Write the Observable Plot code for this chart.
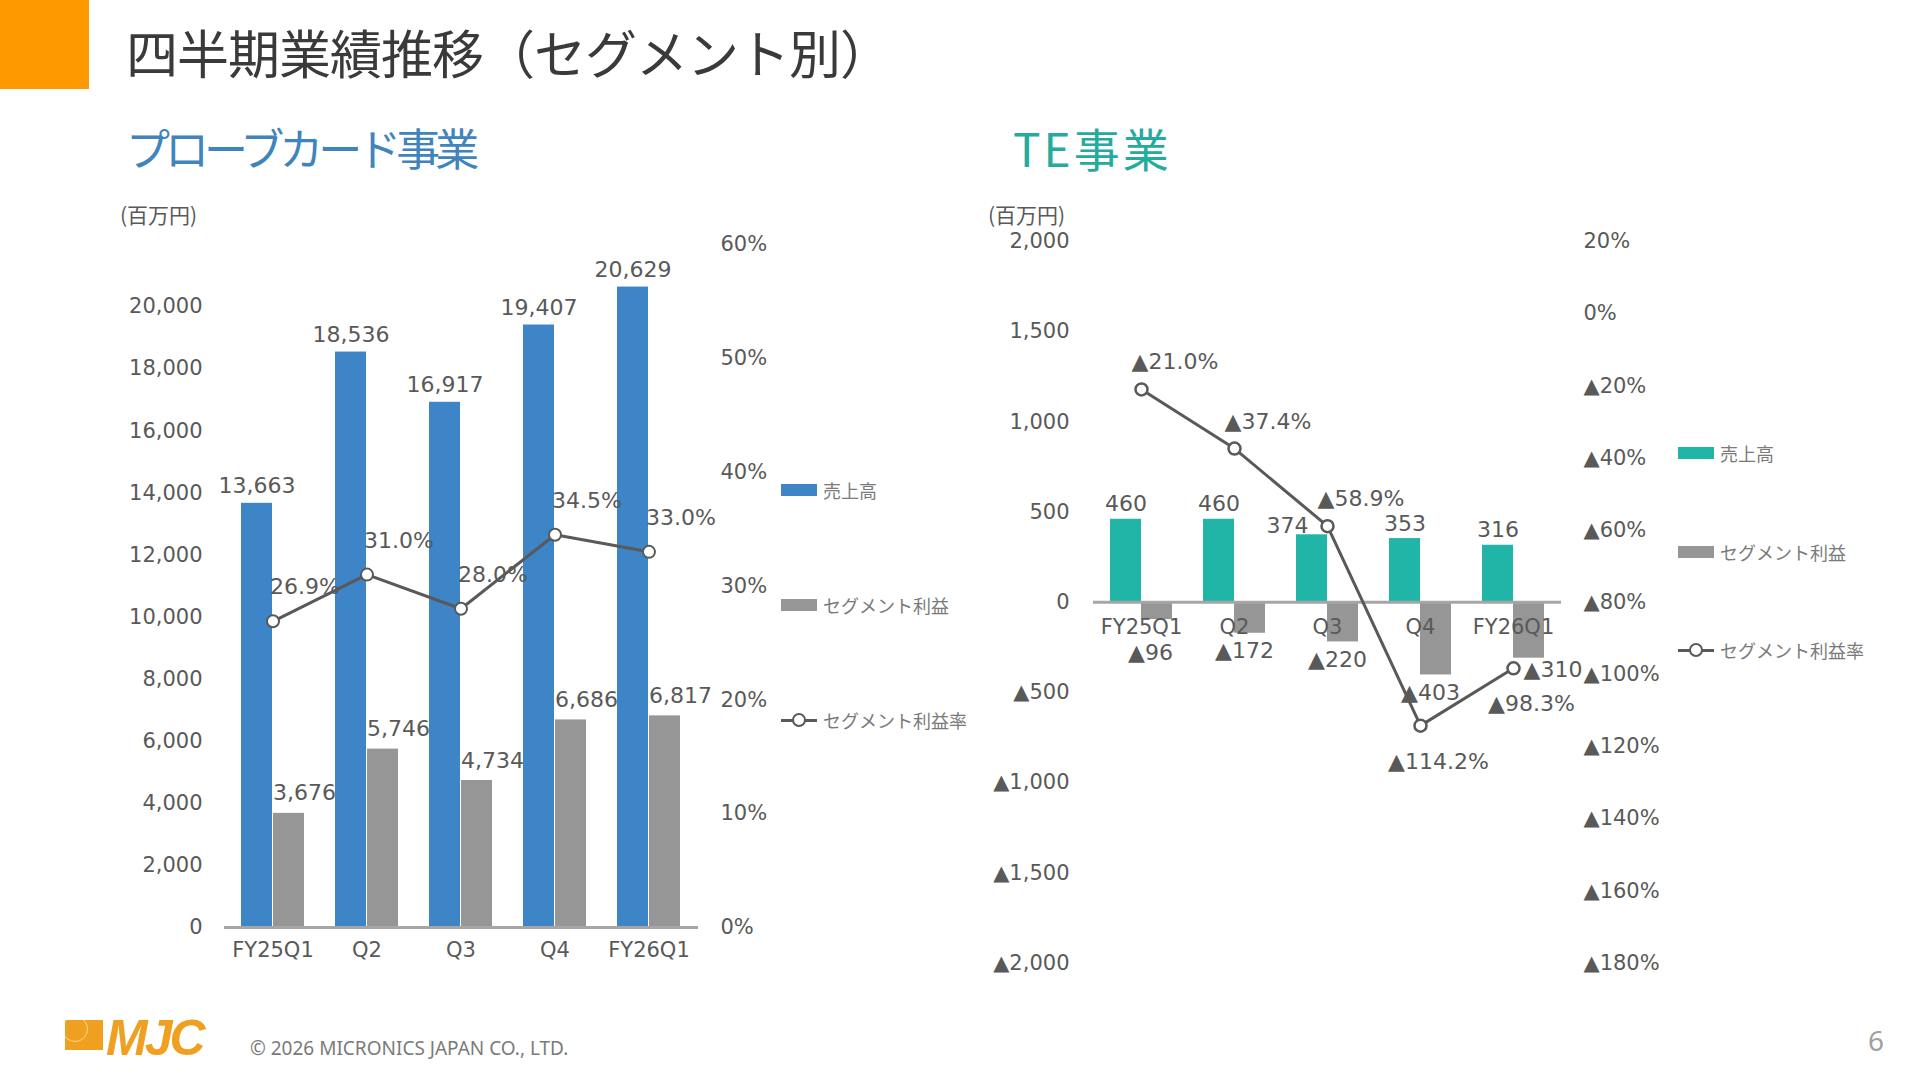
<!DOCTYPE html>
<html lang="ja">
<head>
<meta charset="utf-8">
<script src="https://cdn.jsdelivr.net/npm/d3@7"></script>
<script src="https://cdn.jsdelivr.net/npm/@observablehq/plot@0.6"></script>
<style>
  html, body { margin: 0; padding: 0; background: #fff; }
  #page { position: relative; width: 1920px; height: 1080px; overflow: hidden;
          font-family: "Noto Sans CJK JP", sans-serif; }
  .abs { position: absolute; white-space: nowrap; line-height: 1; }
  .mid { transform: translateY(-50%); }
  #corner { left: 0; top: 0; width: 89px; height: 89px; background: #ff9900; }
  .title { left: 126px; top: 52px; font-size: 52px; letter-spacing: -1px; color: #3a3a3a; }
  .sub { top: 147px; font-size: 44px; }
  .unit { top: 214px; font-size: 21px; color: #595959; }
  .lg-text { font-size: 18px; color: #7a7a7a; }
  .swatch { width: 36px; height: 12px; }
  .lg-line { width: 36px; height: 3px; background: #595959; }
  .lg-dot { width: 10px; height: 10px; border: 2px solid #595959; border-radius: 50%; background: #fff; }
  .copy { left: 250px; top: 1048px; font-family: "Noto Sans", sans-serif; font-size: 19px; color: #7a7a7a; }
  .pageno { left: 1868px; top: 1040px; font-family: "Noto Sans", sans-serif; font-size: 28px; color: #a0a0a0; }
  #logo-box { left: 65px; top: 1020px; width: 38px; height: 30px; background: #f0a020; overflow: hidden; }
  #logo-circle { left: -3px; top: -4px; width: 24px; height: 24px; border: 1.5px solid #ffd58a; border-radius: 50%; }
  #logo-text { left: 106px; top: 1038px; font-family: "Liberation Sans", sans-serif; font-weight: bold;
               font-style: italic; font-size: 50px; color: #f0a020; letter-spacing: -3px; }
</style>
</head>
<body>
<div id="page">
  <div class="abs" id="corner"></div>
  <div class="abs mid title">四半期業績推移（セグメント別）</div>
  <div class="abs mid sub" style="left:126px;color:#3f84bd;letter-spacing:-5px">プローブカード事業</div>
  <div class="abs mid sub" style="left:1013px;color:#25ab9e;font-size:46px;letter-spacing:3px">TE事業</div>
  <div class="abs mid unit" style="left:120px">(百万円)</div>
  <div class="abs mid unit" style="left:988px">(百万円)</div>

  <div id="pc" class="abs" style="left:0;top:0"></div>
  <div id="te" class="abs" style="left:960px;top:0"></div>

  <div id="legends"></div>

  <div class="abs" id="logo-box"><div class="abs" id="logo-circle"></div></div>
  <div class="abs mid" id="logo-text">MJC</div>
  <div class="abs mid copy">© 2026 MICRONICS JAPAN CO., LTD.</div>
  <div class="abs mid pageno">6</div>
</div>
<script>
// Quarterly results by segment (millions of yen)
const quarters = ["FY25Q1", "Q2", "Q3", "Q4", "FY26Q1"];
const seriesNames = ["売上高", "セグメント利益", "セグメント利益率"];

// Probe card business
const pcSales  = [13663, 18536, 16917, 19407, 20629];
const pcProfit = [3676, 5746, 4734, 6686, 6817];
const pcRate   = [0.269, 0.310, 0.280, 0.345, 0.330];
const pcLeftTicks  = [0, 2000, 4000, 6000, 8000, 10000, 12000, 14000, 16000, 18000, 20000];
const pcRightTicks = [0, 0.1, 0.2, 0.3, 0.4, 0.5, 0.6];

// TE business
const teSales  = [460, 460, 374, 353, 316];
const teProfit = [-96, -172, -220, -403, -310];
const teRate   = [-0.210, -0.374, -0.589, -1.142, -0.983];
const teLeftTicks  = [-2000, -1500, -1000, -500, 0, 500, 1000, 1500, 2000];
const teRightTicks = [0.2, 0, -0.2, -0.4, -0.6, -0.8, -1.0, -1.2, -1.4, -1.6, -1.8];

const BLUE = "#3d85c6", GRAY = "#969696", TEAL = "#20b5a6", INK = "#595959", AXIS = "#a6a6a6";
const NUM_FONT = "'DejaVu Sans', 'Noto Sans CJK JP', sans-serif";

// Negative values are written with a leading ▲
const num = v => (v < 0 ? "▲" : "") + d3.format(",")(Math.abs(v));
const pct0 = v => (v < -1e-9 ? "▲" : "") + d3.format(".0%")(Math.abs(v));
const pct1 = v => (v < 0 ? "▲" : "") + d3.format(".1%")(Math.abs(v));

const rows = (sales, profit, rate) => quarters.map((q, i) => ({q, sales: sales[i], profit: profit[i], rate: rate[i]}));

// ---- Probe card chart: left axis 0–22,000, right axis 0–60% ----
const pc = rows(pcSales, pcProfit, pcRate);
const PC_MAX = 22000, PC_RATE_MAX = 0.6;
const pcK = PC_MAX / PC_RATE_MAX;            // rate → left-axis units
const pcY = r => r * pcK;

const pcPlot = Plot.plot({
  width: 780, height: 1000,
  marginLeft: 224, marginRight: 82, marginTop: 244, marginBottom: 73,
  style: {fontFamily: NUM_FONT, fontSize: "21px", color: INK, background: "transparent", overflow: "visible"},
  x: {type: "band", domain: quarters, paddingInner: 0.325, paddingOuter: 0.1625, axis: null, label: null},
  y: {domain: [0, PC_MAX], axis: null, label: null},
  marks: [
    Plot.axisY(pcLeftTicks, {anchor: "left", tickSize: 0, tickPadding: 22, tickFormat: num, label: null}),
    Plot.axisY(pcRightTicks.map(pcY), {anchor: "right", tickSize: 0, tickPadding: 22,
      tickFormat: v => pct0(v / pcK), label: null}),
    Plot.barY(pc, {x: "q", y: "sales", fill: BLUE, insetRight: 32}),
    Plot.barY(pc, {x: "q", y: "profit", fill: GRAY, insetLeft: 32}),
    Plot.ruleY([0], {stroke: AXIS, strokeWidth: 3}),
    Plot.axisX({anchor: "bottom", tickSize: 0, tickPadding: 15, label: null}),
    Plot.lineY(pc, {x: "q", y: d => pcY(d.rate), stroke: INK, strokeWidth: 3}),
    Plot.dot(pc, {x: "q", y: d => pcY(d.rate), r: 6, fill: "white", stroke: INK, strokeWidth: 2}),
    Plot.text(pc, {x: "q", y: "sales", text: d => num(d.sales), dx: -16, dy: -17, fontSize: 22}),
    Plot.text(pc, {x: "q", y: "profit", text: d => num(d.profit), textAnchor: "start", dy: -20, fontSize: 22}),
    Plot.text(pc, {x: "q", y: d => pcY(d.rate), text: d => pct1(d.rate), textAnchor: "start", dx: -3, dy: -34, fontSize: 22})
  ]
});
document.getElementById("pc").append(pcPlot);

// ---- TE chart: left axis ±2,000, right axis 20% to ▲180% ----
const te = rows(teSales, teProfit, teRate);
const TE_MIN = -2000, TE_MAX = 2000, TE_RATE_MIN = -1.8, TE_RATE_MAX = 0.2;
const teY = r => TE_MIN + (r - TE_RATE_MIN) / (TE_RATE_MAX - TE_RATE_MIN) * (TE_MAX - TE_MIN);
const teR = v => TE_RATE_MIN + (v - TE_MIN) / (TE_MAX - TE_MIN) * (TE_RATE_MAX - TE_RATE_MIN);

// Label placement helpers: a bar-end label steps aside when the margin dot sits right at that bar end,
// and a short negative bar pushes its label below the row of quarter names.
const NEAR = 100;         // left-axis units
const SHORT = -150;
const dotNear = (d, v) => Math.abs(teY(d.rate) - v) < NEAR;

const tePlot = Plot.plot({
  width: 760, height: 1010,
  marginLeft: 133, marginRight: 159, marginTop: 241, marginBottom: 47.5,
  style: {fontFamily: NUM_FONT, fontSize: "21px", color: INK, background: "transparent", overflow: "visible"},
  x: {type: "band", domain: quarters, paddingInner: 0.3376, paddingOuter: 0.1688, axis: null, label: null},
  y: {domain: [TE_MIN, TE_MAX], axis: null, label: null},
  marks: [
    Plot.axisY(teLeftTicks, {anchor: "left", tickSize: 0, tickPadding: 24, tickFormat: num, label: null}),
    Plot.axisY(teRightTicks.map(teY), {anchor: "right", tickSize: 0, tickPadding: 22,
      tickFormat: v => pct0(teR(v)), label: null}),
    Plot.barY(te, {x: "q", y: "sales", fill: TEAL, insetRight: 31}),
    Plot.barY(te, {x: "q", y: "profit", fill: GRAY, insetLeft: 31}),
    Plot.ruleY([0], {stroke: AXIS, strokeWidth: 3}),
    Plot.text(quarters, {x: d => d, y: () => 0, dy: 25}),
    Plot.lineY(te, {x: "q", y: d => teY(d.rate), stroke: INK, strokeWidth: 3}),
    Plot.dot(te, {x: "q", y: d => teY(d.rate), r: 6, fill: "white", stroke: INK, strokeWidth: 2.5}),

    // sales labels
    Plot.text(te, {filter: d => !dotNear(d, d.sales), x: "q", y: "sales", text: d => num(d.sales),
      dx: -15.5, dy: -15, fontSize: 22}),
    Plot.text(te, {filter: d => dotNear(d, d.sales), x: "q", y: "sales", text: d => num(d.sales),
      textAnchor: "end", dx: -19, dy: -9, fontSize: 22}),

    // segment profit labels
    Plot.text(te, {filter: d => d.profit > SHORT, x: "q", y: "profit", text: d => num(d.profit),
      dx: 9, dy: 33, fontSize: 22}),
    Plot.text(te, {filter: d => d.profit <= SHORT && !dotNear(d, d.profit), x: "q", y: "profit",
      text: d => num(d.profit), dx: 10, dy: 18, fontSize: 22}),
    Plot.text(te, {filter: d => d.profit <= SHORT && dotNear(d, d.profit), x: "q", y: "profit",
      text: d => num(d.profit), textAnchor: "start", dx: 10, dy: 12, fontSize: 22}),

    // margin labels sit above the point while it is above the zero line, below it otherwise
    Plot.text(te, {filter: d => teY(d.rate) >= 0, x: "q", y: d => teY(d.rate), text: d => pct1(d.rate),
      textAnchor: "start", dx: -10, dy: -27, fontSize: 22}),
    Plot.text(te, {filter: d => teY(d.rate) < 0, x: "q", y: d => teY(d.rate), text: d => pct1(d.rate),
      dx: 18, dy: 36, fontSize: 22})
  ]
});
document.getElementById("te").append(tePlot);

// ---- Legends ----
function legend(x, ys, color) {
  const box = document.getElementById("legends");
  ys.forEach((y, i) => {
    const key = document.createElement("div");
    key.className = "abs";
    if (i < 2) {
      key.className += " swatch";
      key.style.background = i === 0 ? color : GRAY;
      key.style.left = x + "px"; key.style.top = (y - 6) + "px";
    } else {
      key.style.left = x + "px"; key.style.top = (y - 7) + "px";
      key.style.width = "36px"; key.style.height = "14px";
      key.innerHTML = '<div class="abs lg-line" style="left:0;top:5.5px"></div>' +
                      '<div class="abs lg-dot" style="left:11px;top:0"></div>';
    }
    box.append(key);
    const t = document.createElement("div");
    t.className = "abs mid lg-text";
    t.textContent = seriesNames[i];
    t.style.left = (x + 42) + "px"; t.style.top = y + "px";
    box.append(t);
  });
}
legend(781, [490, 605, 720], BLUE);
legend(1678, [453, 552, 650], TEAL);
</script>
</body>
</html>
